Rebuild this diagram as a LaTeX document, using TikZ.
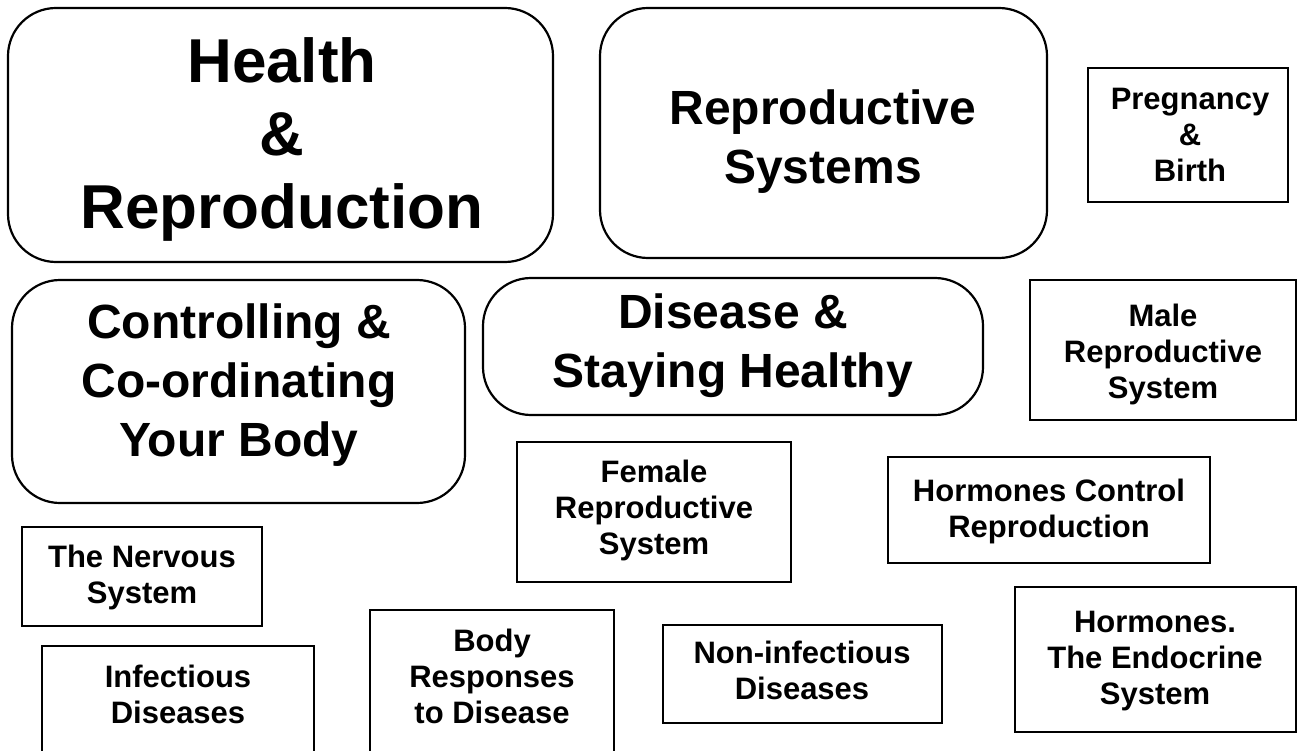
\documentclass[tikz,border=0pt]{standalone}
\usepackage{fontspec}
\setmainfont{Liberation Sans}
\begin{document}
\begin{tikzpicture}[x=1pt,y=-1pt,
  rbox/.style={draw=black,line width=2.2pt,rounded corners=48pt,inner sep=0pt},
  sbox/.style={draw=black,line width=2.2pt,inner sep=0pt},
  big/.style={align=center,inner sep=0pt,font=\fontsize{62}{73}\selectfont\bfseries},
  mid/.style={align=center,inner sep=0pt,font=\fontsize{48}{59}\selectfont\bfseries},
  small/.style={align=center,inner sep=0pt,font=\fontsize{31}{36}\selectfont\bfseries}]
\useasboundingbox (0,0) rectangle (1305,751);
\clip (0,0) rectangle (1305,751);
% rounded boxes
\draw[rbox] (8,8) rectangle (553,262);
\node[big] (hr) at (282,139) {Health\\\&\\Reproduction};
\draw[rbox] (600,8) rectangle (1047,258);
\node[mid] (rs) at (823,142) {Reproductive\\Systems};
\draw[rbox] (12,280) rectangle (465,503);
\node[mid] (cc) at (239,385) {Controlling \&\\Co-ordinating\\Your Body};
\draw[rbox] (483,278) rectangle (983,415);
\node[mid] (ds) at (733,346) {Disease \&\\Staying Healthy};
% square boxes
\draw[sbox] (1088,68) rectangle (1288,202);
\node[small] (pb) at (1190,135) {Pregnancy\\\&\\Birth};
\draw[sbox] (1030,280) rectangle (1296,420);
\node[small] (mr) at (1163,354) {Male\\Reproductive\\System};
\draw[sbox] (517,442) rectangle (791,582);
\node[small] (fr) at (654,510) {Female\\Reproductive\\System};
\draw[sbox] (888,457) rectangle (1210,563);
\node[small] (hc) at (1049,511) {Hormones Control\\Reproduction};
\draw[sbox] (22,527) rectangle (262,626);
\node[small] (ns) at (142,577) {The Nervous\\System};
\draw[sbox] (42,646) rectangle (314,770);
\node[small] (id) at (178,694) {Infectious\\Diseases};
\draw[sbox] (370,610) rectangle (614,770);
\node[small] (br) at (492,676) {Body\\Responses\\to Disease};
\draw[sbox] (663,625) rectangle (942,723);
\node[small] (ni) at (802,670) {Non-infectious\\Diseases};
\draw[sbox] (1015,587) rectangle (1296,732);
\node[small] (he) at (1155,661) {Hormones.\\The Endocrine\\System};
\end{tikzpicture}
\end{document}
